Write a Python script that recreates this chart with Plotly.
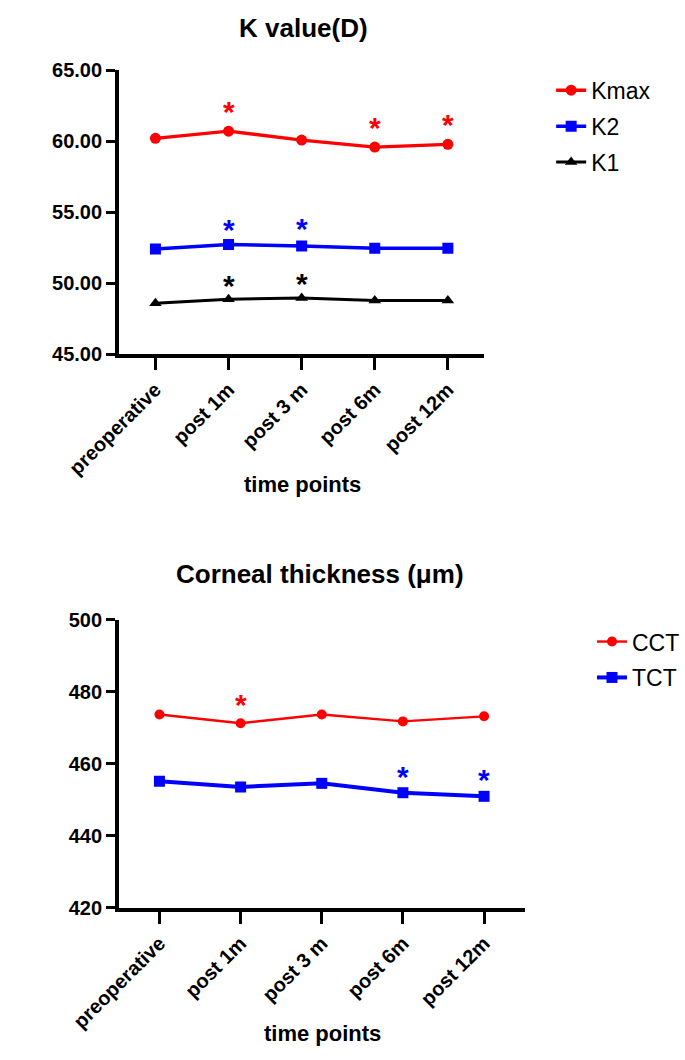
import plotly.graph_objects as go

# ---------------- data ----------------
time_points = ["preoperative", "post 1m", "post 3 m", "post 6m", "post 12m"]

kmax = [60.22, 60.72, 60.10, 59.60, 59.80]
k2 = [52.42, 52.75, 52.63, 52.47, 52.47]
k1 = [48.60, 48.88, 48.98, 48.80, 48.80]

cct = [473.7, 471.3, 473.7, 471.8, 473.2]
tct = [455.2, 453.6, 454.6, 452.0, 451.0]

# significance asterisks (category, y position)
kmax_star_x = ["post 1m", "post 6m", "post 12m"]
kmax_star_y = [62.3, 61.2, 61.4]
k2_star_x = ["post 1m", "post 3 m"]
k2_star_y = [54.0, 54.1]
k1_star_x = ["post 1m", "post 3 m"]
k1_star_y = [50.1, 50.2]
cct_star_x = ["post 1m"]
cct_star_y = [477.2]
tct_star_x = ["post 6m", "post 12m"]
tct_star_y = [457.4, 456.4]

k_ticks = [45, 50, 55, 60, 65]
ct_ticks = [420, 440, 460, 480, 500]

# ---------------- styling ----------------
W, H = 685, 1060
FONT = "Liberation Sans, Arial, Helvetica, sans-serif"
RED = "#FF0000"
BLUE = "#0000FF"
BLACK = "#000000"


def px_x(p):
    return p / W


def px_y(p):
    return 1 - p / H


fig = go.Figure()

# top chart traces
fig.add_trace(go.Scatter(x=time_points, y=kmax, name="Kmax", mode="lines+markers",
                         line=dict(color=RED, width=3.3),
                         marker=dict(symbol="circle", size=11, color=RED),
                         xaxis="x", yaxis="y", legend="legend", legendgroup="a"))
fig.add_trace(go.Scatter(x=time_points, y=k2, name="K2", mode="lines+markers",
                         line=dict(color=BLUE, width=3.5),
                         marker=dict(symbol="square", size=11, color=BLUE),
                         xaxis="x", yaxis="y", legend="legend", legendgroup="b"))
fig.add_trace(go.Scatter(x=time_points, y=k1, name="K1", mode="lines+markers",
                         line=dict(color=BLACK, width=3),
                         marker=dict(symbol="triangle-up", size=11, color=BLACK),
                         xaxis="x", yaxis="y", legend="legend", legendgroup="c"))

# bottom chart traces
fig.add_trace(go.Scatter(x=time_points, y=cct, name="CCT", mode="lines+markers",
                         line=dict(color=RED, width=2.4),
                         marker=dict(symbol="circle", size=10, color=RED),
                         xaxis="x2", yaxis="y2", legend="legend2", legendgroup="d"))
fig.add_trace(go.Scatter(x=time_points, y=tct, name="TCT", mode="lines+markers",
                         line=dict(color=BLUE, width=4),
                         marker=dict(symbol="square", size=11, color=BLUE),
                         xaxis="x2", yaxis="y2", legend="legend2", legendgroup="e"))

# asterisks
annotations = []
star_sets = [
    (kmax_star_x, kmax_star_y, RED, "x", "y"),
    (k2_star_x, k2_star_y, BLUE, "x", "y"),
    (k1_star_x, k1_star_y, BLACK, "x", "y"),
    (cct_star_x, cct_star_y, RED, "x2", "y2"),
    (tct_star_x, tct_star_y, BLUE, "x2", "y2"),
]
for xs, ys, col, xr, yr in star_sets:
    for xv, yv in zip(xs, ys):
        annotations.append(dict(x=xv, y=yv, xref=xr, yref=yr, text="*", showarrow=False,
                                yshift=-3, font=dict(family=FONT, size=30, color=col, weight="bold")))

# titles
annotations.append(dict(text="K value(D)", x=px_x(273), y=px_y(17), xref="paper", yref="paper",
                        showarrow=False, xanchor="center", yanchor="middle",
                        font=dict(family=FONT, size=26, color=BLACK, weight="bold")))
annotations.append(dict(text="Corneal thickness (μm)", x=px_x(291), y=px_y(575), xref="paper", yref="paper",
                        showarrow=False, xanchor="center", yanchor="middle",
                        font=dict(family=FONT, size=26, color=BLACK, weight="bold")))
annotations.append(dict(text="time points", x=px_x(272), y=px_y(484), xref="paper", yref="paper",
                        showarrow=False, xanchor="center", yanchor="middle",
                        font=dict(family=FONT, size=22, color=BLACK, weight="bold")))
annotations.append(dict(text="time points", x=px_x(294), y=px_y(1044), xref="paper", yref="paper",
                        showarrow=False, xanchor="center", yanchor="middle",
                        font=dict(family=FONT, size=22, color=BLACK, weight="bold")))

tickfont = dict(family=FONT, size=20, color=BLACK, weight="bold")
axis_common = dict(showline=True, linecolor=BLACK, linewidth=3.5, showgrid=False, zeroline=False,
                   ticks="outside", tickcolor=BLACK, tickwidth=3, tickfont=tickfont)

fig.update_layout(
    width=W, height=H,
    margin=dict(l=0, r=0, t=0, b=0),
    paper_bgcolor="white", plot_bgcolor="white",
    font=dict(family=FONT, color=BLACK),
    xaxis=dict(domain=[px_x(71), px_x(471)], anchor="y", type="category",
               categoryorder="array", categoryarray=time_points,
               range=[-0.5, 4.5], tickangle=-45, ticklen=12, **axis_common),
    yaxis=dict(domain=[px_y(350.7), px_y(60.7)], anchor="x", range=[45, 65],
               tickvals=k_ticks, tickformat=".2f", ticklen=9, **axis_common),
    xaxis2=dict(domain=[px_x(71), px_x(515)], anchor="y2", type="category",
                categoryorder="array", categoryarray=time_points,
                range=[-0.5, 4.5], tickangle=-45, ticklen=12, **axis_common),
    yaxis2=dict(domain=[px_y(916), px_y(621.7)], anchor="x2", range=[420, 500],
                tickvals=ct_ticks, tickformat="d", ticklen=9, **axis_common),
    legend=dict(x=px_x(544), y=px_y(59), xanchor="left", yanchor="top",
                font=dict(family=FONT, size=23, color=BLACK),
                traceorder="grouped", tracegroupgap=3, bgcolor="rgba(0,0,0,0)"),
    legend2=dict(x=px_x(589), y=px_y(622), xanchor="left", yanchor="top",
                 font=dict(family=FONT, size=23, color=BLACK),
                 traceorder="grouped", tracegroupgap=3, bgcolor="rgba(0,0,0,0)"),
    annotations=annotations,
    showlegend=True,
)

fig.write_html("out.html", config={"displayModeBar": False},
               post_script="document.body.style.margin='0';")
